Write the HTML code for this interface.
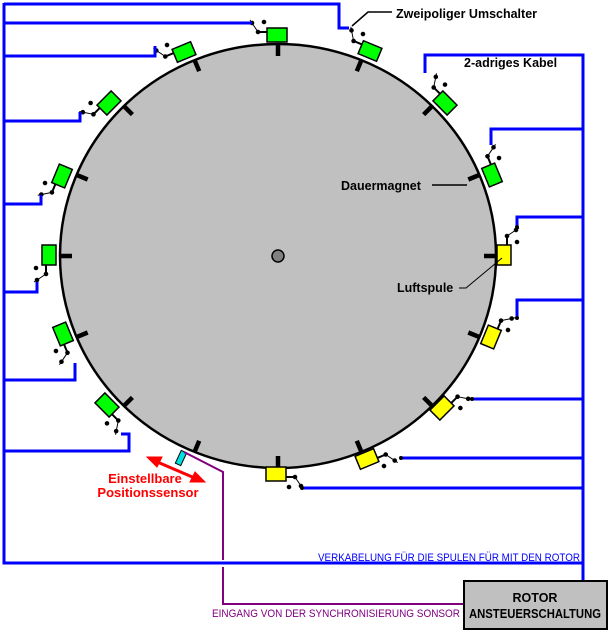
<!DOCTYPE html>
<html><head><meta charset="utf-8"><style>
html,body{margin:0;padding:0;background:#fff;}
svg{display:block;}
text{font-family:"Liberation Sans",Arial,sans-serif;}
.b{font-weight:bold;font-size:12.5px;fill:#000;}
</style></head><body>
<svg width="610" height="633" viewBox="0 0 610 633" xmlns="http://www.w3.org/2000/svg">
<defs>
<g id="sw" stroke="#000" stroke-width="1" fill="#000">
<line x1="-27" y1="-15" x2="-19" y2="-3"/>
<line x1="-19" y1="-3" x2="-10" y2="-3" stroke-width="2"/>
<circle cx="-19" cy="-3" r="1.8"/>
<circle cx="-25" cy="-12" r="1.8"/>
<circle cx="-13" cy="-13" r="1.8"/>
</g>
<g id="cg"><rect x="-10" y="-7" width="20" height="14" fill="#00ff00" stroke="#000" stroke-width="1.5"/><use href="#sw"/></g>
<g id="cy"><rect x="-10" y="-7" width="20" height="14" fill="#ffff00" stroke="#000" stroke-width="1.5"/><use href="#sw"/></g>
<line id="mg" x1="0" y1="0" x2="0" y2="12" stroke="#000" stroke-width="4.5"/>
</defs>

<ellipse cx="278" cy="256" rx="218" ry="212" fill="#c0c0c0" stroke="#000" stroke-width="2.5"/>
<circle cx="278" cy="256" r="6" fill="#808080" stroke="#000" stroke-width="1.5"/>

<use href="#mg" transform="translate(278,44) rotate(0)"/>
<use href="#mg" transform="translate(361.4,60.1) rotate(22.5)"/>
<use href="#mg" transform="translate(432.1,106.1) rotate(45)"/>
<use href="#mg" transform="translate(479.4,174.9) rotate(67.5)"/>
<use href="#mg" transform="translate(496,256) rotate(90)"/>
<use href="#mg" transform="translate(479.4,337.1) rotate(112.5)"/>
<use href="#mg" transform="translate(432.1,405.9) rotate(135)"/>
<use href="#mg" transform="translate(361.4,451.9) rotate(157.5)"/>
<use href="#mg" transform="translate(278,468) rotate(180)"/>
<use href="#mg" transform="translate(194.6,451.9) rotate(202.5)"/>
<use href="#mg" transform="translate(123.9,405.9) rotate(225)"/>
<use href="#mg" transform="translate(76.6,337.1) rotate(247.5)"/>
<use href="#mg" transform="translate(60,256) rotate(270)"/>
<use href="#mg" transform="translate(76.6,174.9) rotate(292.5)"/>
<use href="#mg" transform="translate(123.9,106.1) rotate(315)"/>
<use href="#mg" transform="translate(194.6,60.1) rotate(337.5)"/>

<use href="#cg" transform="translate(277,35) rotate(0)"/>
<use href="#cg" transform="translate(370,51) rotate(22.5)"/>
<use href="#cg" transform="translate(445,103) rotate(45)"/>
<use href="#cg" transform="translate(492,175) rotate(67.5)"/>
<use href="#cy" transform="translate(504,255) rotate(90)"/>
<use href="#cy" transform="translate(491,337) rotate(112.5)"/>
<use href="#cy" transform="translate(442,408) rotate(135)"/>
<use href="#cy" transform="translate(367,459) rotate(157.5)"/>
<use href="#cy" transform="translate(276,474) rotate(180)"/>
<use href="#cg" transform="translate(107,405) rotate(225)"/>
<use href="#cg" transform="translate(63,334) rotate(247.5)"/>
<use href="#cg" transform="translate(49,255) rotate(270)"/>
<use href="#cg" transform="translate(62,176) rotate(292.5)"/>
<use href="#cg" transform="translate(109,103) rotate(315)"/>
<use href="#cg" transform="translate(184,52) rotate(337.5)"/>

<rect x="-3" y="-7" width="6" height="14" fill="#00e0e0" stroke="#000" stroke-width="1" transform="translate(181,458) rotate(25)"/>

<g fill="none" stroke="#0000ff" stroke-width="3">
<path d="M4,3 V563 H583"/>
<path d="M4,4 H339 V28 H349"/>
<path d="M4,23 H252"/>
<path d="M4,56 H155 V46"/>
<path d="M4,121 H80 V112"/>
<path d="M4,204 H41 V195"/>
<path d="M4,292 H37 V282"/>
<path d="M4,380 H75 V363"/>
<path d="M4,451 H129 V434 H121"/>
<path d="M583,580 V55 H425 V73"/>
<path d="M583,129 H491 V145"/>
<path d="M583,217 H517 V227"/>
<path d="M583,300 H517 V318"/>
<path d="M583,399 H472"/>
<path d="M583,458 H401"/>
<path d="M583,488 H302"/>
</g>
<g fill="#000">
<circle cx="472" cy="399" r="2"/><circle cx="401" cy="458" r="2"/><circle cx="302" cy="488" r="2"/>
<circle cx="517" cy="227" r="2"/><circle cx="517" cy="318" r="2"/>
</g>

<path d="M184,452 L223,472 V560 M223,567 V604 H463" fill="none" stroke="#800080" stroke-width="2"/>

<g stroke="#ff0000" stroke-width="3" fill="#ff0000">
<line x1="155" y1="461" x2="197" y2="479"/>
<polygon points="147,457 162,457 157,467" stroke-width="1"/>
<polygon points="205,482 190,482 195,472" stroke-width="1"/>
</g>
<text x="145" y="483" text-anchor="middle" style="font-weight:bold;font-size:13px;fill:#ff0000">Einstellbare</text>
<text x="148" y="497" text-anchor="middle" style="font-weight:bold;font-size:13px;fill:#ff0000">Positionssensor</text>

<path d="M352,26 L368,12 H392" fill="none" stroke="#000" stroke-width="1.5"/>
<text class="b" x="396" y="18">Zweipoliger Umschalter</text>
<text class="b" x="464" y="67">2-adriges Kabel</text>
<text class="b" x="341" y="190">Dauermagnet</text>
<line x1="432" y1="185" x2="467" y2="185" stroke="#000" stroke-width="1.5"/>
<text class="b" x="397" y="292">Luftspule</text>
<path d="M459,288 H466 L502,258" fill="none" stroke="#000" stroke-width="1"/>

<text x="580" y="561" text-anchor="end" textLength="262" lengthAdjust="spacingAndGlyphs" style="font-size:11px;fill:#0000ff">VERKABELUNG FÜR DIE SPULEN FÜR MIT DEN ROTOR</text>
<text x="212" y="617" textLength="248" lengthAdjust="spacingAndGlyphs" style="font-size:11px;fill:#800080">EINGANG VON DER SYNCHRONISIERUNG SONSOR</text>

<rect x="464" y="581" width="143" height="48" fill="#c0c0c0" stroke="#000" stroke-width="2"/>
<text class="b" x="535" y="602" text-anchor="middle">ROTOR</text>
<text class="b" x="469" y="618" textLength="132" lengthAdjust="spacingAndGlyphs">ANSTEUERSCHALTUNG</text>
</svg>
</body></html>
